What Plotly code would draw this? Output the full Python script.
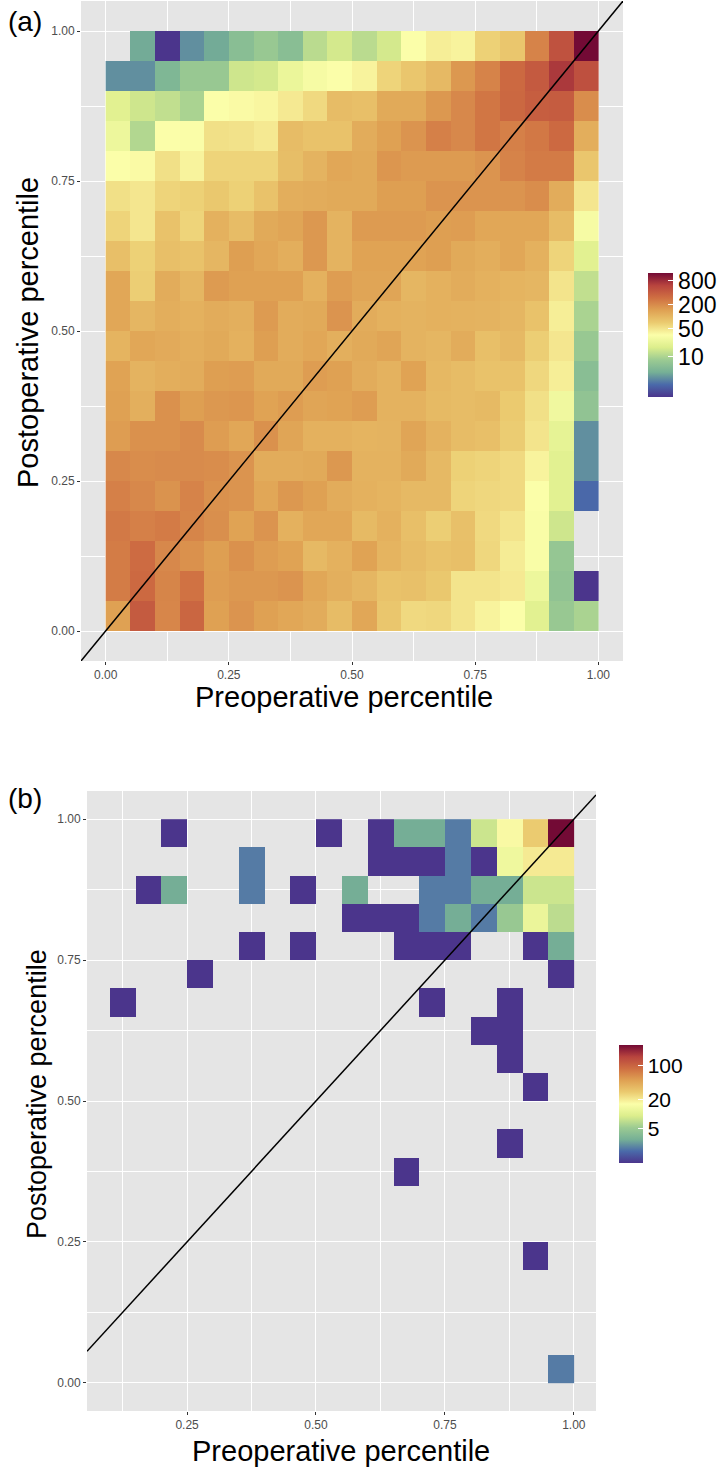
import numpy as np
import plotly.graph_objects as go

W, H = 718, 1468
N = None
bin_centers = [round(0.025 + 0.05 * i, 3) for i in range(20)]

# Panel (a): counts per bin, rows listed from the top (0.95-1.00) down to (0.00-0.05)
counts_a = [
    [N, 4, 1, 3, 4, 6, 8, 6, 12, 16, 12, 16, 36, 45, 42, 68, 80, 230, 500, 1290],
    [3, 3, 5, 8, 8, 15, 16, 25, 32, 36, 42, 65, 80, 100, 170, 230, 340, 440, 720, 520],
    [20, 15, 13, 10, 36, 38, 40, 48, 60, 95, 90, 130, 130, 170, 215, 280, 345, 410, 420, 200],
    [26, 11, 36, 35, 55, 53, 48, 95, 85, 85, 125, 150, 180, 240, 215, 280, 240, 270, 340, 120],
    [36, 38, 55, 42, 65, 65, 65, 92, 110, 135, 130, 175, 165, 165, 165, 180, 230, 260, 260, 80],
    [55, 50, 65, 68, 78, 68, 85, 120, 125, 130, 130, 155, 155, 180, 180, 180, 180, 200, 125, 50],
    [65, 50, 85, 65, 115, 95, 130, 140, 170, 110, 165, 165, 165, 155, 160, 135, 135, 135, 95, 32],
    [90, 68, 90, 85, 105, 155, 135, 120, 170, 110, 145, 145, 145, 155, 130, 120, 135, 115, 65, 20],
    [135, 70, 125, 105, 165, 150, 150, 150, 115, 160, 140, 140, 105, 115, 125, 115, 108, 105, 52, 13],
    [135, 105, 120, 115, 125, 118, 165, 125, 130, 180, 125, 115, 110, 115, 112, 110, 105, 85, 45, 10],
    [108, 135, 128, 120, 130, 115, 155, 125, 135, 118, 130, 140, 110, 105, 125, 90, 100, 70, 50, 8],
    [145, 110, 120, 125, 155, 160, 130, 130, 160, 150, 125, 112, 145, 102, 95, 85, 85, 62, 45, 6],
    [150, 118, 190, 155, 170, 175, 145, 160, 140, 145, 160, 112, 112, 98, 95, 98, 75, 55, 28, 7],
    [160, 190, 190, 205, 160, 135, 190, 140, 115, 115, 108, 110, 140, 112, 95, 90, 72, 52, 22, 3],
    [215, 200, 205, 205, 200, 180, 125, 125, 130, 170, 112, 112, 130, 100, 68, 65, 60, 42, 20, 3],
    [240, 215, 185, 230, 190, 180, 135, 170, 150, 125, 115, 108, 100, 100, 65, 62, 60, 36, 20, 2],
    [265, 240, 260, 225, 195, 145, 180, 115, 135, 135, 98, 115, 90, 70, 88, 60, 52, 34, 15, N],
    [255, 330, 215, 190, 155, 190, 160, 145, 100, 115, 145, 108, 95, 85, 90, 62, 46, 34, 7.5, N],
    [255, 340, 225, 295, 160, 170, 170, 180, 135, 118, 105, 85, 88, 78, 52, 52, 48, 26, 7, 1],
    [150, 430, 220, 360, 150, 180, 150, 135, 125, 95, 135, 80, 60, 62, 52, 42, 36, 20, 8, 10],
]

# Panel (b): counts per bin, same layout
counts_b = [
    [N, N, N, N, 1, N, N, N, N, N, 1, N, 1, 3, 3, 2, 8, 17, 28, 260],
    [N, N, N, N, N, N, N, 2, N, N, N, N, 1, 1, 1, 2, 1, 13, 20, 20],
    [N, N, N, 1, 3, N, N, 2, N, 1, N, 3, N, N, 2, 2, 3, 3, 8, 8],
    [N, N, N, N, N, N, N, N, N, N, N, 1, 1, 1, 2, 3, 2, 5, 12, 7],
    [N, N, N, N, N, N, N, 1, N, 1, N, N, N, 1, 1, 1, N, N, 1, 3],
    [N, N, N, N, N, 1, N, N, N, N, N, N, N, N, N, N, N, N, N, 1],
    [N, N, 1, N, N, N, N, N, N, N, N, N, N, N, 1, N, N, 1, N, N],
    [N, N, N, N, N, N, N, N, N, N, N, N, N, N, N, N, 1, 1, N, N],
    [N, N, N, N, N, N, N, N, N, N, N, N, N, N, N, N, N, 1, N, N],
    [N, N, N, N, N, N, N, N, N, N, N, N, N, N, N, N, N, N, 1, N],
    [N] * 20,
    [N, N, N, N, N, N, N, N, N, N, N, N, N, N, N, N, N, 1, N, N],
    [N, N, N, N, N, N, N, N, N, N, N, N, N, 1, N, N, N, N, N, N],
    [N] * 20,
    [N] * 20,
    [N, N, N, N, N, N, N, N, N, N, N, N, N, N, N, N, N, N, 1, N],
    [N] * 20,
    [N] * 20,
    [N] * 20,
    [N, N, N, N, N, N, N, N, N, N, N, N, N, N, N, N, N, N, N, 2],
]

max_a, max_b = 1290, 260
legend_a = [10, 50, 200, 800]
legend_b = [5, 20, 100]
diag_a = [-0.05, 1.05]
diag_b = [0.056, 1.043]
ticks = [0, 0.25, 0.5, 0.75, 1]
ticks_xb = [0.25, 0.5, 0.75, 1]
x_title = "Preoperative percentile"
y_title = "Postoperative percentile"

spectral = [
    [0.0, "#4b358c"], [0.1, "#4a6aaa"], [0.2, "#76b096"], [0.3, "#9ccb92"],
    [0.4, "#dcee8c"], [0.5, "#fbfea9"], [0.6, "#ebcb70"], [0.7, "#dfa153"],
    [0.8, "#cf6f42"], [0.9, "#b8443e"], [1.0, "#730a35"],
]


def logz(rows):
    a = np.array(rows, dtype=float)
    return np.log10(a[::-1])


def dom(lo, hi, size):
    return [lo / size, hi / size]


fig = go.Figure()


def heat(rows, vmax, legend, xa, ya, bar_x, bar_top, bar_h, thick, fs):
    fig.add_trace(go.Heatmap(
        x=bin_centers, y=bin_centers, z=logz(rows), xaxis=xa, yaxis=ya,
        zmin=0, zmax=float(np.log10(vmax)), colorscale=spectral, hoverongaps=False,
        colorbar=dict(
            tickmode="array", tickvals=[float(np.log10(v)) for v in legend],
            ticktext=[str(v) for v in legend],
            x=bar_x / W, xanchor="left", xref="paper",
            y=1 - bar_top / H, yanchor="top", yref="paper",
            len=bar_h, lenmode="pixels", thickness=thick, thicknessmode="pixels",
            outlinewidth=0, ticks="inside", ticklen=5, tickcolor="white", tickwidth=1,
            tickfont=dict(family="Liberation Sans", size=fs, color="#000000"),
            xpad=0, ypad=0,
        ),
    ))


heat(counts_a, max_a, legend_a, "x", "y", 648, 272.5, 124, 25, 23)
heat(counts_b, max_b, legend_b, "x2", "y2", 619, 1045, 118, 24, 21)

fig.add_trace(go.Scatter(x=diag_a, y=diag_a, mode="lines", xaxis="x", yaxis="y",
                         line=dict(color="black", width=1.5), showlegend=False))
fig.add_trace(go.Scatter(x=diag_b, y=diag_b, mode="lines", xaxis="x2", yaxis="y2",
                         line=dict(color="black", width=1.5), showlegend=False))

axis_common = dict(
    showgrid=True, gridcolor="white", gridwidth=1.4, zeroline=False,
    ticks="outside", ticklen=3, tickwidth=1, tickcolor="#333333",
    tickfont=dict(family="Liberation Sans", size=12, color="#4d4d4d"),
    tickformat=".2f", tickmode="array", showline=False,
    minor=dict(tickmode="array", tickvals=[0.125, 0.375, 0.625, 0.875], showgrid=True,
               gridcolor="white", gridwidth=0.7, ticks=""),
)


def ax(**kw):
    d = dict(axis_common)
    d.update(kw)
    return d


def label(text, px, py, size, angle=0):
    return dict(text=text, x=px / W, y=1 - py / H, xref="paper", yref="paper",
                xanchor="center", yanchor="middle", showarrow=False, textangle=angle,
                font=dict(family="Liberation Sans", size=size, color="#000000"))


fig.update_layout(
    width=W, height=H, autosize=False, showlegend=False,
    margin=dict(l=0, r=0, t=0, b=0, autoexpand=False),
    paper_bgcolor="white", plot_bgcolor="#e5e5e5",
    xaxis=ax(domain=dom(81, 623, W), range=[-0.05, 1.05], tickvals=ticks, anchor="y"),
    yaxis=ax(domain=[1 - 661 / H, 1 - 1 / H], range=[-0.05, 1.05], tickvals=ticks, anchor="x"),
    xaxis2=ax(domain=dom(87, 596, W), range=diag_b, tickvals=ticks_xb, anchor="y2"),
    yaxis2=ax(domain=[1 - 1411 / H, 1 - 791 / H], range=[-0.05, 1.05], tickvals=ticks, anchor="x2"),
    annotations=[
        label("(a)", 25, 22, 28),
        label("(b)", 25, 798, 28),
        label(x_title, 344, 697, 29),
        label(y_title, 28, 333, 29, -90),
        label(x_title, 341, 1451, 29),
        label(y_title, 37, 1094, 27, -90),
    ],
)

fig.write_html("out.html", config={"displayModeBar": False},
               post_script="document.body.style.margin='0';document.body.style.overflow='hidden';")
